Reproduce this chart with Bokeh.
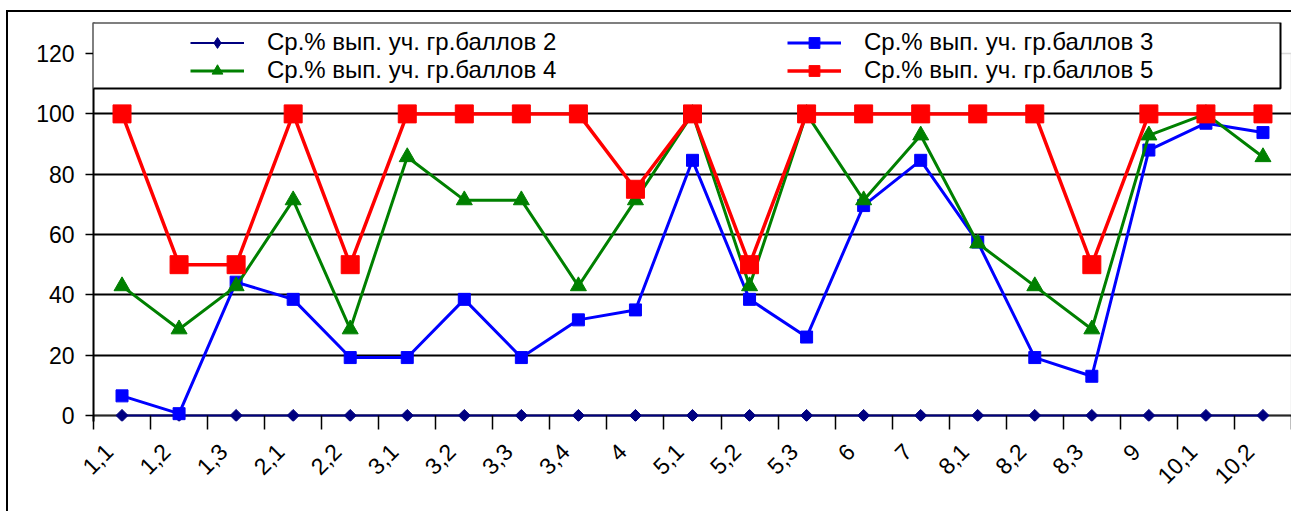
import math
from bokeh.plotting import figure
from bokeh.models import (Range1d, LinearAxis, FixedTicker, Legend,
                          LegendItem, BoxAnnotation)
from bokeh.embed import file_html
from bokeh.resources import INLINE

categories = ["1,1", "1,2", "1,3", "2,1", "2,2", "3,1", "3,2", "3,3", "3,4", "4",
              "5,1", "5,2", "5,3", "6", "7", "8,1", "8,2", "8,3", "9", "10,1", "10,2"]
score2 = [0, 0, 0, 0, 0, 0, 0, 0, 0, 0, 0, 0, 0, 0, 0, 0, 0, 0, 0, 0, 0]
score3 = [6.5, 0.6, 44.2, 38.5, 19.2, 19.2, 38.5, 19.2, 31.7, 35.0,
          84.6, 38.5, 26.0, 69.6, 84.6, 57.5, 19.2, 13.0, 88.0, 96.9, 93.8]
score4 = [42.9, 28.6, 42.9, 71.4, 28.6, 85.7, 71.4, 71.4, 42.9, 71.4,
          100, 42.9, 100, 71.4, 92.9, 57.1, 42.9, 28.6, 92.9, 100, 85.7]
score5 = [100, 50, 50, 100, 50, 100, 100, 100, 100, 75,
          100, 50, 100, 100, 100, 100, 100, 50, 100, 100, 100]
y_ticks = [0, 20, 40, 60, 80, 100, 120]
labels = ["Ср.% вып. уч. гр.баллов 2", "Ср.% вып. уч. гр.баллов 3",
          "Ср.% вып. уч. гр.баллов 4", "Ср.% вып. уч. гр.баллов 5"]

FONT = "Liberation Sans"
n = len(categories)
xpos = list(range(n))  # category index positions
y_max = y_ticks[-1]

p = figure(width=1285, height=501,
           x_range=Range1d(-0.5, n - 0.5),
           y_range=Range1d(-2, 130.3),
           output_backend="svg", toolbar_location=None, x_axis_location=None,
           min_border_left=85, min_border_right=2, min_border_top=10, min_border_bottom=92)
p.styles = {"margin-left": "6px", "margin-top": "10px",
            "border-left": "2px solid black", "border-top": "2px solid black"}
p.outline_line_color = None
p.background_fill_color = "white"

# y axis
ya = p.yaxis[0]
ya.ticker = FixedTicker(ticks=y_ticks)
ya.axis_line_color = "black"
ya.axis_line_width = 2
ya.major_tick_out = 8
ya.major_tick_in = 0
ya.major_tick_line_width = 1.5
ya.minor_tick_line_color = None
ya.major_label_text_font = FONT
ya.major_label_text_font_size = "23px"
ya.major_label_text_color = "black"
ya.major_label_standoff = 11

p.ygrid.ticker = FixedTicker(ticks=y_ticks[:-1])
p.ygrid.grid_line_color = "black"
p.ygrid.grid_line_width = 2
p.xgrid.visible = False

# plot-area border (grey) at the top value and the right edge
frame_box = BoxAnnotation(left=-0.5, right=n - 0.5, bottom=0, top=y_max,
                          fill_alpha=0, line_color="#808080", line_width=1.5,
                          level="underlay")
p.add_layout(frame_box)

# x axis: labels slightly left of category centres, ticks at category boundaries
shift = 0.23
p.extra_x_ranges = {"lab": Range1d(start=-0.5 + shift, end=n - 0.5 + shift)}
xa = LinearAxis(x_range_name="lab",
                ticker=FixedTicker(ticks=list(range(n)),
                                   minor_ticks=[b - 0.5 + shift for b in range(n + 1)]),
                major_label_overrides={i: c for i, c in enumerate(categories)})
xa.axis_line_color = None
xa.major_tick_line_color = None
xa.major_tick_out = 0
xa.major_tick_in = 0
xa.minor_tick_line_color = "black"
xa.minor_tick_line_width = 1.5
xa.minor_tick_out = 8
xa.minor_tick_in = 6
xa.major_label_orientation = math.pi / 4
xa.major_label_text_font = FONT
xa.major_label_text_font_size = "23px"
xa.major_label_text_color = "black"
xa.major_label_standoff = 18
p.add_layout(xa, "below")

# series
r2l = p.line(xpos, score2, line_color="#000080", line_width=2)
r2m = p.scatter(xpos, score2, marker="square", angle=math.pi / 4, size=8.5,
                fill_color="#000080", line_color="#000080")
r2k = p.scatter(xpos, score2, marker="diamond", size=13,
                fill_color="#000080", line_color="#000080", visible=False)
r3l = p.line(xpos, score3, line_color="#0000FF", line_width=3)
r3m = p.scatter(xpos, score3, marker="square", size=12,
                fill_color="#0000FF", line_color="#0000FF")
r4l = p.line(xpos, score4, line_color="#008000", line_width=3)
r4m = p.scatter(xpos, score4, marker="triangle", size=16,
                fill_color="#008000", line_color="#008000")
r5l = p.line(xpos, score5, line_color="#FF0000", line_width=3.5)
r5m = p.scatter(xpos, score5, marker="square", size=18,
                fill_color="#FF0000", line_color="#FF0000")

# legend box (screen units, relative to the plot area)
box = BoxAnnotation(left=-2, right=1187, bottom=333, top=399,
                    left_units="screen", right_units="screen",
                    top_units="screen", bottom_units="screen",
                    fill_color="white", fill_alpha=1.0,
                    line_color="black", line_width=2, line_alpha=1.0)
p.add_layout(box)

legend = Legend(items=[LegendItem(label=labels[0], renderers=[r2l, r2k]),
                       LegendItem(label=labels[1], renderers=[r3l, r3m]),
                       LegendItem(label=labels[2], renderers=[r4l, r4m]),
                       LegendItem(label=labels[3], renderers=[r5l, r5m])],
                orientation="horizontal", ncols=2,
                location=(97, 337),
                border_line_color=None, background_fill_alpha=0,
                padding=4, spacing=0, margin=0,
                glyph_width=54, glyph_height=27, label_height=25, label_width=520,
                label_standoff=23,
                label_text_font=FONT, label_text_font_size="24px",
                label_text_color="black")
p.add_layout(legend, "center")

open("out.html", "w").write(file_html(p, INLINE))
